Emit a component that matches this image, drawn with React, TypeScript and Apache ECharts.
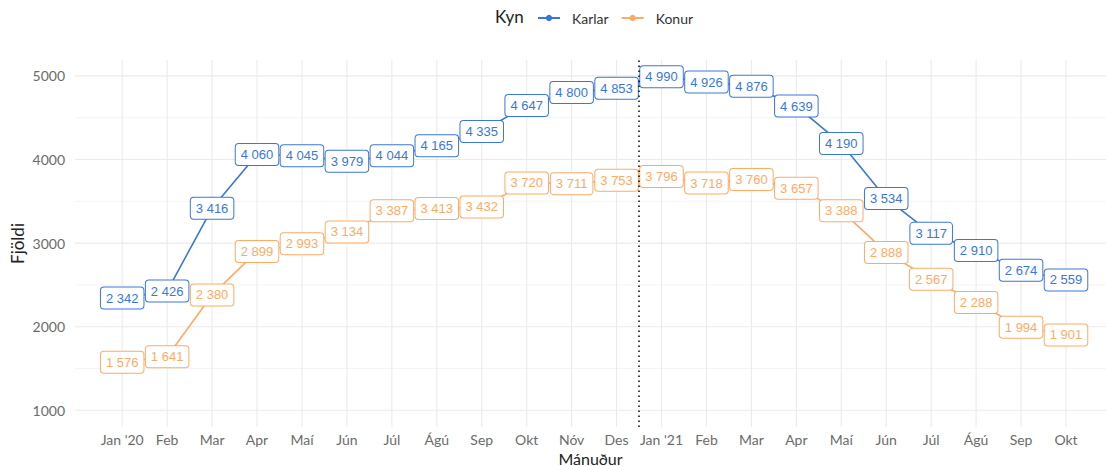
import React, { useEffect, useRef } from "react";
import * as echarts from "echarts";

const months = ["Jan '20", "Feb", "Mar", "Apr", "Maí", "Jún", "Júl", "Ágú", "Sep", "Okt", "Nóv", "Des",
  "Jan '21", "Feb", "Mar", "Apr", "Maí", "Jún", "Júl", "Ágú", "Sep", "Okt"];
const karlar = [2342, 2426, 3416, 4060, 4045, 3979, 4044, 4165, 4335, 4647, 4800, 4853,
  4990, 4926, 4876, 4639, 4190, 3534, 3117, 2910, 2674, 2559];
const konur = [1576, 1641, 2380, 2899, 2993, 3134, 3387, 3413, 3432, 3720, 3711, 3753,
  3796, 3718, 3760, 3657, 3388, 2888, 2567, 2288, 1994, 1901];
const yTicks = [1000, 2000, 3000, 4000, 5000];
const yMinorTicks = [1500, 2500, 3500, 4500];
const dividerAt = 11.5;

const X_MIN = -1.05;
const X_MAX = 21.89;
const Y_MIN = 800;
const Y_MAX = 5190;

const BLUE = "#3a77d8";
const ORANGE = "#fcab66";
const GRID = "#ebebeb";

const fmt = (v: number) => String(v).replace(/\B(?=(\d{3})+(?!\d))/g, " ");

function lineSeries(name: string, values: number[], color: string, extra: any = {}) {
  return {
    name,
    type: "line",
    z: 2,
    data: values.map((v, i) => [i, v]),
    symbol: "circle",
    symbolSize: 6,
    showSymbol: true,
    showAllSymbol: true,
    itemStyle: { color },
    lineStyle: { color, width: 1.6 },
    label: {
      show: true,
      position: "inside",
      formatter: (p: any) => fmt(p.value[1]),
      color,
      fontFamily: "Liberation Sans",
      fontSize: 13,
      lineHeight: 15,
      backgroundColor: "#ffffff",
      borderColor: color,
      borderWidth: 1,
      borderRadius: 3,
      padding: [3, 5, 3, 5],
    },
    emphasis: { disabled: true },
    ...extra,
  };
}

export default function App() {
  const ref = useRef<HTMLDivElement>(null);
  useEffect(() => {
    if (!ref.current) return;
    const chart = echarts.init(ref.current, undefined, { renderer: "svg" });
    const option: any = {
      animation: false,
      textStyle: { fontFamily: "Lato" },
      grid: { left: 75, right: 0, top: 60, bottom: 39, containLabel: false, outerBoundsMode: "none" },
      legend: {
        data: ["Karlar", "Konur"],
        left: 532,
        top: 6,
        itemWidth: 22,
        itemHeight: 8,
        itemGap: 12,
        textStyle: { fontFamily: "Lato", fontSize: 14, color: "#333", padding: [0, 0, 0, 7] },
      },
      graphic: [
        {
          type: "text",
          left: 495,
          top: 8,
          style: { text: "Kyn", fontFamily: "Lato", fontSize: 17, fill: "#222" },
        },
      ],
      xAxis: {
        type: "value",
        min: X_MIN,
        max: X_MAX,
        name: "Mánuður",
        nameLocation: "middle",
        nameGap: 23,
        nameMoveOverlap: false,
        nameTextStyle: { fontFamily: "Lato", fontSize: 16, lineHeight: 16, color: "#222" },
        axisLine: { show: false },
        axisTick: { show: false },
        splitLine: { show: false },
        axisLabel: {
          customValues: months.map((_, i) => i),
          formatter: (v: number) => months[Math.round(v)] ?? "",
          fontFamily: "Lato",
          fontSize: 14,
          lineHeight: 13,
          color: "#6b6b6b",
          margin: 6,
        },
      },
      yAxis: {
        type: "value",
        min: Y_MIN,
        max: Y_MAX,
        name: "Fjöldi",
        nameLocation: "middle",
        nameRotate: 90,
        nameGap: 49,
        nameMoveOverlap: false,
        nameTextStyle: { fontFamily: "Lato", fontSize: 17, color: "#222" },
        axisLine: { show: false },
        axisTick: { show: false },
        splitLine: { show: false },
        axisLabel: {
          customValues: yTicks,
          formatter: (v: number) => String(v),
          fontFamily: "Lato",
          fontSize: 14,
          color: "#6b6b6b",
          margin: 10,
        },
      },
      series: [
        {
          type: "custom",
          name: "vgrid",
          z: 0,
          silent: true,
          clip: false,
          data: months.map((_, i) => [i, Y_MIN]),
          encode: { x: 0, y: 1 },
          renderItem: (params: any, api: any) => {
            const cs = params.coordSys;
            const x = api.coord([api.value(0), Y_MIN])[0];
            return {
              type: "line",
              shape: { x1: x, y1: cs.y, x2: x, y2: cs.y + cs.height },
              style: { stroke: GRID, lineWidth: 1.1 },
            };
          },
        },
        {
          type: "custom",
          name: "hgrid",
          z: 0,
          silent: true,
          clip: false,
          data: yTicks.map((v) => [0, v, 1.1]).concat(yMinorTicks.map((v) => [0, v, 0.55])),
          encode: { x: 0, y: 1 },
          renderItem: (params: any, api: any) => {
            const cs = params.coordSys;
            const y = api.coord([0, api.value(1)])[1];
            return {
              type: "line",
              shape: { x1: cs.x, y1: y, x2: cs.x + cs.width, y2: y },
              style: { stroke: GRID, lineWidth: api.value(2) },
            };
          },
        },
        lineSeries("Karlar", karlar, BLUE, {
          markLine: {
            silent: true,
            symbol: ["none", "none"],
            label: { show: false },
            lineStyle: { color: "#111", width: 1.6, type: [1.6, 3.4] },
            emphasis: { disabled: true },
            data: [{ xAxis: dividerAt }],
          },
        }),
        lineSeries("Konur", konur, ORANGE),
      ],
    };
    chart.setOption(option);
    return () => chart.dispose();
  }, []);
  return (
    <div
      ref={ref}
      style={{ position: "absolute", left: 0, top: 0, width: 1106, height: 466, background: "#fff" }}
    />
  );
}
